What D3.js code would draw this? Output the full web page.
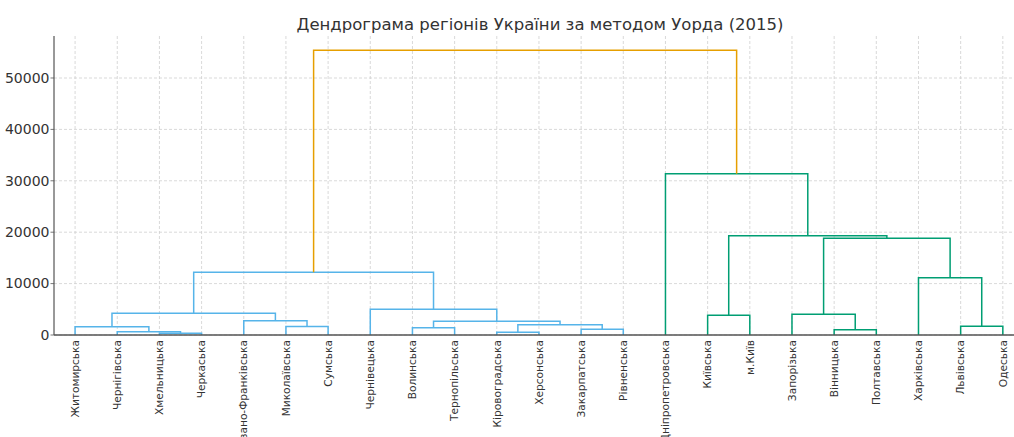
<!DOCTYPE html>
<html>
<head>
<meta charset="utf-8">
<script src="https://cdn.jsdelivr.net/npm/d3@7"></script>
<style>
  body { margin: 0; background: #fff; }
  text { font-family: "DejaVu Sans", sans-serif; }
</style>
</head>
<body>
<div class="canva"></div>
<script>
const title = "Дендрограма регіонів України за методом Уорда (2015)"

// leaves in dendrogram order
const leaves = ["Житомирська", "Чернігівська", "Хмельницька", "Черкаська", "Івано-Франківська",
  "Миколаївська", "Сумська", "Чернівецька", "Волинська", "Тернопільська", "Кіровоградська",
  "Херсонська", "Закарпатська", "Рівненська", "Дніпропетровська", "Київська", "м.Київ",
  "Запорізька", "Вінницька", "Полтавська", "Харківська", "Львівська", "Одеська"]

// linkage: [left node, right node, height]; node ids >= leaves.length are earlier merges
const links = [
  [2, 3, 340],
  [1, 23, 640],
  [10, 11, 525],
  [18, 19, 1030],
  [12, 13, 1100],
  [8, 9, 1420],
  [0, 24, 1615],
  [5, 6, 1650],
  [21, 22, 1690],
  [25, 27, 2000],
  [28, 32, 2660],
  [4, 30, 2780],
  [15, 16, 3830],
  [17, 26, 4020],
  [29, 34, 4220],
  [7, 33, 5000],
  [20, 31, 11150],
  [37, 38, 12200],
  [36, 39, 18810],
  [35, 41, 19320],
  [14, 42, 31380],
  [40, 43, 55400]
]

const yTicks = [0, 10000, 20000, 30000, 40000, 50000]

const width = 1014, height = 437
const m = {left: 54, top: 36, bottom: 335}

const svg = d3.select(".canva").append("svg")
  .attr("width", width).attr("height", height)

const maxH = d3.max(links, d => d[2])
const x = d3.scaleLinear().domain([0, leaves.length * 10]).range([m.left, m.left + leaves.length * 42.17])
const y = d3.scaleLinear().domain([0, maxH * 1.05]).range([m.bottom, m.top])

// grid
svg.append("g").selectAll("line").data(leaves).enter().append("line")
  .attr("x1", (d, i) => x(i * 10 + 5)).attr("x2", (d, i) => x(i * 10 + 5))
  .attr("y1", m.top).attr("y2", m.bottom)
  .attr("stroke", "#cfcfcf").attr("stroke-width", 0.8).attr("stroke-dasharray", "3,2")
svg.append("g").selectAll("line").data(yTicks).enter().append("line")
  .attr("x1", m.left).attr("x2", width)
  .attr("y1", d => y(d)).attr("y2", d => y(d))
  .attr("stroke", "#cfcfcf").attr("stroke-width", 0.8).attr("stroke-dasharray", "3,2")

// node positions
const n = leaves.length
const pos = leaves.map((d, i) => ({x: i * 10 + 5, h: 0}))
links.forEach(l => {
  pos.push({x: (pos[l[0]].x + pos[l[1]].x) / 2, h: l[2]})
})

// colour: top merge orange, each top subtree gets its own colour
const topColor = "#E69F00"
const clusterColors = ["#56B4E9", "#009E73"]
const colorOf = {}
function paint(id, c) {
  if (id < n) return
  colorOf[id] = c
  const l = links[id - n]
  paint(l[0], c); paint(l[1], c)
}
const root = n + links.length - 1
colorOf[root] = topColor
paint(links[root - n][0], clusterColors[0])
paint(links[root - n][1], clusterColors[1])

svg.append("g").selectAll("path").data(links).enter().append("path")
  .attr("d", (l, i) => {
    const a = pos[l[0]], b = pos[l[1]]
    return "M" + x(a.x) + "," + y(a.h) + "V" + y(l[2]) + "H" + x(b.x) + "V" + y(b.h)
  })
  .attr("fill", "none")
  .attr("stroke", (l, i) => colorOf[n + i])
  .attr("stroke-width", 1.5)

// spines
svg.append("line").attr("x1", m.left).attr("x2", m.left).attr("y1", m.top).attr("y2", m.bottom)
  .attr("stroke", "#333").attr("stroke-width", 1)
svg.append("line").attr("x1", m.left).attr("x2", width).attr("y1", m.bottom).attr("y2", m.bottom)
  .attr("stroke", "#555").attr("stroke-width", 1.5)

// y ticks
svg.append("g").selectAll("line").data(yTicks).enter().append("line")
  .attr("x1", m.left - 3.5).attr("x2", m.left)
  .attr("y1", d => y(d)).attr("y2", d => y(d))
  .attr("stroke", "#555").attr("stroke-width", 0.8)
svg.append("g").selectAll("text").data(yTicks).enter().append("text")
  .text(d => d)
  .attr("x", m.left - 4.5).attr("y", d => y(d)).attr("dy", "0.35em")
  .attr("text-anchor", "end").attr("font-size", 14).attr("fill", "#333")

// leaf labels
svg.append("g").selectAll("text").data(leaves).enter().append("text")
  .text(d => d)
  .attr("transform", (d, i) => "translate(" + x(i * 10 + 5) + "," + (m.bottom + 5) + ") rotate(-90)")
  .attr("dy", "0.35em")
  .attr("text-anchor", "end").attr("font-size", 10.6).attr("fill", "#333")

svg.append("text").text(title)
  .attr("x", 540).attr("y", 30)
  .attr("text-anchor", "middle").attr("font-size", 16.5).attr("fill", "#333")
</script>
</body>
</html>
